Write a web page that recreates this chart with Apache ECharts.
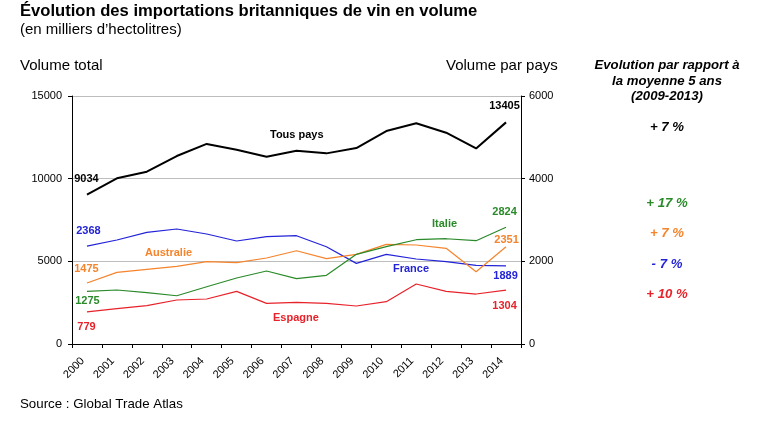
<!DOCTYPE html>
<html>
<head>
<meta charset="utf-8">
<script src="https://cdn.jsdelivr.net/npm/echarts@6/dist/echarts.min.js"></script>
<style>
  html, body { margin: 0; padding: 0; background: #fff; }
  #chart { width: 765px; height: 421px; }
</style>
</head>
<body>
<div id="chart"></div>
<script>
// -- data (milliers d'hectolitres) --
let years = ['2000', '2001', '2002', '2003', '2004', '2005', '2006', '2007', '2008', '2009',
             '2010', '2011', '2012', '2013', '2014'];
let tousPays = [9034, 10020, 10420, 11370, 12100, 11750, 11330, 11690, 11530, 11850, 12880, 13350, 12780, 11830, 13405];
let france = [2368, 2516, 2701, 2782, 2661, 2492, 2596, 2620, 2354, 1951, 2170, 2056, 1991, 1903, 1889];
let australie = [1475, 1734, 1807, 1879, 1991, 1967, 2080, 2257, 2064, 2170, 2411, 2395, 2315, 1749, 2351];
let italie = [1275, 1306, 1241, 1168, 1386, 1597, 1766, 1580, 1662, 2170, 2354, 2523, 2547, 2499, 2824];
let espagne = [779, 855, 927, 1064, 1089, 1274, 984, 1008, 984, 919, 1024, 1451, 1274, 1209, 1304];
let leftTicks = [0, 5000, 10000, 15000];
let rightTicks = [0, 2000, 4000, 6000];
let evolution = ['+ 7 %', '+ 17 %', '+ 7 %', '- 7 %', '+ 10 %'];

let FONT = 'Liberation Sans, Arial, sans-serif';
let C_BLACK = '#000000';
let C_BLUE = '#2323d8';
let C_ORANGE = '#f5842c';
let C_GREEN = '#2a8a2a';
let C_RED = '#e8222a';

// label only first and last point of a series, centred at a shift from the point
function ends(values, color, first, last) {
  return values.map(function (v, i) {
    let lab = null;
    if (i === 0) lab = first;
    if (i === values.length - 1) lab = last;
    if (!lab) return v;
    return {
      value: v,
      label: {
        show: true, position: lab, align: 'center', verticalAlign: 'middle',
        color: color, fontFamily: FONT, fontSize: 11, fontWeight: 'bold'
      }
    };
  });
}

function line(name, values, color, width, axis, first, last) {
  return {
    name: name,
    type: 'line',
    yAxisIndex: axis,
    data: ends(values, color, first, last),
    symbol: 'circle',
    symbolSize: 1,
    showSymbol: true,
    smooth: false,
    lineStyle: {color: color, width: width},
    itemStyle: {color: 'rgba(0,0,0,0)', borderWidth: 0},
    label: {show: false},
    labelLayout: {hideOverlap: false},
    animation: false,
    z: axis === 0 ? 5 : 3
  };
}

function txt(x, y, s, color, size, weight, style, align) {
  return {
    type: 'text', x: x, y: y,
    style: {
      text: s, fill: color,
      font: (style || 'normal') + ' ' + (weight || 'normal') + ' ' + size + 'px ' + FONT,
      textAlign: align || 'left', textVerticalAlign: 'top'
    }
  };
}

function plain(v) { return String(v); }

let option = {
  backgroundColor: '#ffffff',
  grid: {left: 72, right: 244, top: 96, bottom: 77},
  xAxis: {
    type: 'category',
    data: years,
    boundaryGap: true,
    axisLine: {lineStyle: {color: '#000', width: 1}},
    axisTick: {show: true, length: 4, lineStyle: {color: '#000'}},
    axisLabel: {rotate: 45, fontFamily: FONT, fontSize: 11, color: '#000', margin: 11,
                padding: [0, 6, 0, 0], interval: 0},
    splitLine: {show: false}
  },
  yAxis: [{
    type: 'value',
    min: leftTicks[0], max: leftTicks[leftTicks.length - 1], interval: 5000,
    axisLine: {show: true, lineStyle: {color: '#000', width: 1}},
    axisTick: {show: true, length: 4, lineStyle: {color: '#000'}},
    axisLabel: {fontFamily: FONT, fontSize: 11, color: '#000', margin: 10, formatter: plain},
    splitLine: {show: true, lineStyle: {color: '#bdbdbd', width: 1}}
  }, {
    type: 'value',
    min: rightTicks[0], max: rightTicks[rightTicks.length - 1], interval: 2000,
    position: 'right',
    axisLine: {show: true, lineStyle: {color: '#000', width: 1}},
    axisTick: {show: true, length: 4, lineStyle: {color: '#000'}},
    axisLabel: {fontFamily: FONT, fontSize: 11, color: '#000', margin: 8, formatter: plain},
    splitLine: {show: false}
  }],
  series: [
    line('Tous pays', tousPays, C_BLACK, 2, 0, [0, -15], [-1, -16]),
    line('France', france, C_BLUE, 1.2, 1, [2, -15], [0, 11]),
    line('Australie', australie, C_ORANGE, 1.2, 1, [0, -14], [1, -6]),
    line('Italie', italie, C_GREEN, 1.2, 1, [1, 10], [-1, -15]),
    line('Espagne', espagne, C_RED, 1.2, 1, [0, 16], [-1, 16])
  ],
  graphic: [
    txt(20, 3, 'Évolution des importations britanniques de vin en volume', '#000', 16.6, 'bold'),
    txt(20, 22, '(en milliers d\u2019hectolitres)', '#000', 15),
    txt(20, 58, 'Volume total', '#000', 15),
    txt(446, 58, 'Volume par pays', '#000', 15),
    txt(667, 59, 'Evolution par rapport à', '#000', 13.2, 'bold', 'italic', 'center'),
    txt(667, 75, 'la moyenne 5 ans', '#000', 13.2, 'bold', 'italic', 'center'),
    txt(667, 90, '(2009-2013)', '#000', 13.2, 'bold', 'italic', 'center'),
    txt(667, 121, evolution[0], C_BLACK, 13.2, 'bold', 'italic', 'center'),
    txt(667, 197, evolution[1], C_GREEN, 13.2, 'bold', 'italic', 'center'),
    txt(667, 227, evolution[2], C_ORANGE, 13.2, 'bold', 'italic', 'center'),
    txt(667, 258, evolution[3], C_BLUE, 13.2, 'bold', 'italic', 'center'),
    txt(667, 288, evolution[4], C_RED, 13.2, 'bold', 'italic', 'center'),
    txt(270, 129, 'Tous pays', C_BLACK, 11, 'bold'),
    txt(145, 247, 'Australie', C_ORANGE, 11, 'bold'),
    txt(273, 312, 'Espagne', C_RED, 11, 'bold'),
    txt(432, 218, 'Italie', C_GREEN, 11, 'bold'),
    txt(393, 263, 'France', C_BLUE, 11, 'bold'),
    txt(20, 398, 'Source : Global Trade Atlas', '#000', 13.3)
  ]
};

let myChart = echarts.init(document.getElementById('chart'), null, {renderer: 'canvas'});
myChart.setOption(option);
</script>
</body>
</html>
